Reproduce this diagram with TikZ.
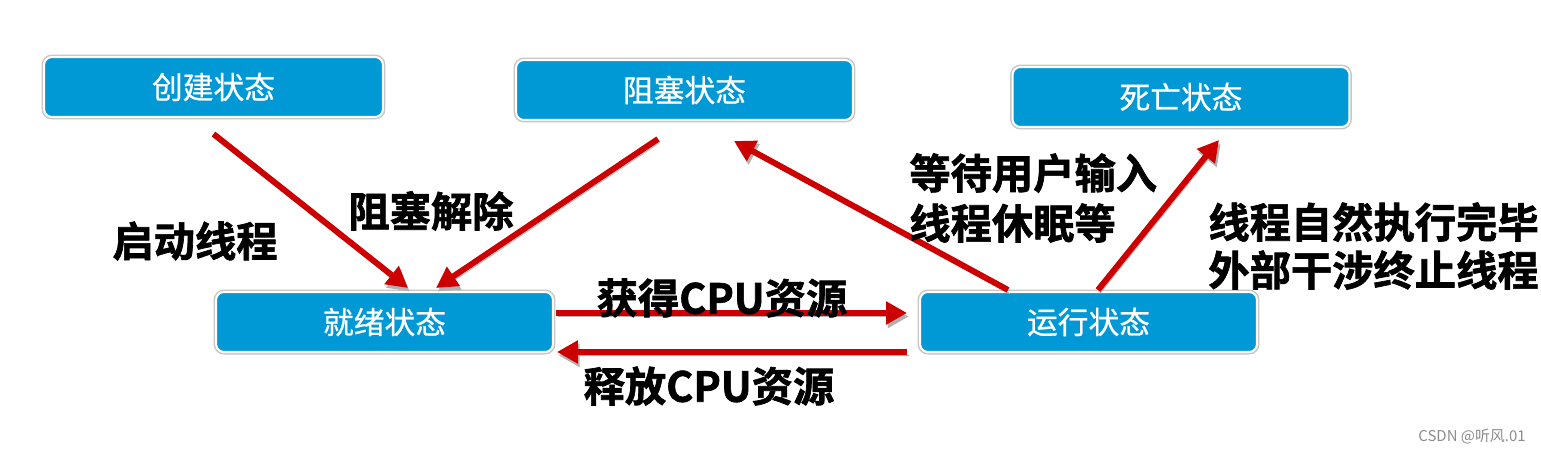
\documentclass[tikz,border=0pt]{standalone}
\usepackage{fontspec}
\setmainfont{Noto Sans CJK SC}
\newfontfamily\cjk{Noto Sans CJK SC}
\newfontfamily\cjkm[FakeBold=0.7]{Noto Sans CJK SC}
\newfontfamily\cjkb[FakeBold=1.6]{Noto Sans CJK SC Bold}
\usetikzlibrary{arrows.meta,calc}
\definecolor{boxblue}{RGB}{0,153,214}
\definecolor{arrred}{RGB}{204,0,0}
\tikzset{
  statebox/.style={rectangle, rounded corners=0.16cm, fill=boxblue,
    minimum width=6.74cm, minimum height=1.2cm, inner sep=0pt,
    preaction={draw=black!22, line width=2.85pt},
    draw=white, line width=1.14pt, text=white, font=\cjkm\fontsize{17.5pt}{20pt}\selectfont},
  redarr/.style={draw=arrred, line width=3.4pt,
    -{Triangle[length=0.42cm,width=0.44cm]},
    preaction={draw=black!30, transform canvas={shift={(1pt,-2pt)}}}},
  lbl/.style={inner sep=0pt, font=\cjkb\fontsize{23.5pt}{28pt}\selectfont, text=black}
}
\begin{document}
\begin{tikzpicture}[x=0.02cm,y=-0.02cm]
\useasboundingbox (0,0) rectangle (1541,453);
\node[statebox, minimum width=6.78cm] (create) at (213.5,87) {创建状态};
\node[statebox] (block) at (684.5,90) {阻塞状态};
\node[statebox] (dead) at (1181,97) {死亡状态};
\node[statebox] (ready) at (384.5,322) {就绪状态};
\node[statebox] (run) at (1088.5,322) {运行状态};

\draw[redarr] ($(create.south)+(0,16)$) -- ($(ready.north)+(23.5,-3)$);
\draw[redarr] ($(block.south)+(-26.5,18)$) -- ($(ready.north)+(51.5,-3)$);
\draw[redarr] ($(ready.east)+(2,-9)$) -- ($(run.west)+(-12,-9)$);
\draw[redarr] ($(run.west)+(-12,30)$) -- ($(ready.east)+(3,30)$);
\draw[redarr] ($(run.north)+(-80.5,-1)$) -- ($(block.south)+(49.5,20)$);
\draw[redarr] ($(run.north)+(9.5,-1)$) -- ($(dead.south)+(38,12)$);

\node[lbl] (l1) at (195,241) {启动线程};
\node[lbl] (l2) at (431,211) {阻塞解除};
\node[lbl] (l3) at (722,298) {获得CPU资源};
\node[lbl] (l4) at (709,386) {释放CPU资源};
\node[lbl, anchor=west, align=left, font=\cjkb\fontsize{23.5pt}{28.5pt}\selectfont] (l5) at (909,198) {等待用户输入\\线程休眠等};
\node[lbl, anchor=west, align=left, font=\cjkb\fontsize{23.5pt}{27.3pt}\selectfont] (l6) at (1208,246) {线程自然执行完毕\\外部干涉终止线程};
\node[inner sep=0pt, text=black!45, font=\cjk\fontsize{8.5pt}{10pt}\selectfont] (wm) at (1472,437) {CSDN @听风.01};
\end{tikzpicture}
\end{document}
